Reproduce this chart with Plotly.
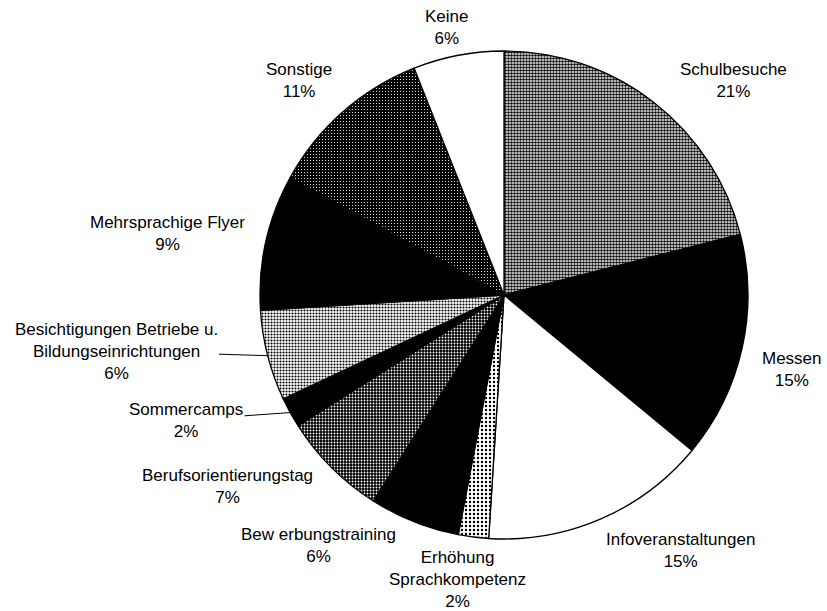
import math
import plotly.graph_objects as go

# ---------------- data ----------------
labels = ["Schulbesuche", "Messen", "Infoveranstaltungen", "Erhöhung<br>Sprachkompetenz",
          "Bew erbungstraining", "Berufsorientierungstag", "Sommercamps",
          "Besichtigungen Betriebe u.<br>Bildungseinrichtungen", "Mehrsprachige Flyer",
          "Sonstige", "Keine"]
values = [21, 15, 15, 2, 6, 7, 2, 6, 9, 11, 6]

# ---------------- style ----------------
colors = ["white", "black", "white", "white", "black", "black", "black", "white", "black", "black", "white"]
p_shape = [".", "", "", ".", "", ".", "", ".", "", ".", ""]
p_fg = ["black", "black", "black", "black", "black", "white", "black", "black", "black", "white", "black"]
p_bg = ["white", "black", "white", "white", "black", "black", "black", "white", "black", "black", "white"]
p_sol = [0.55, 0.3, 0.3, 0.28, 0.3, 0.3, 0.3, 0.4, 0.3, 0.12, 0.3]
p_size = [3, 4, 4, 4, 4, 3, 4, 3, 4, 3, 4]

# label centres in page pixels (layout only)
label_pos = [(733, 80), (792, 369), (680, 550), (458, 579), (318, 545), (227, 486),
             (186, 420), (116, 351), (167, 233), (299, 80), (446, 27)]
leader = [False, False, False, False, False, False, True, True, False, False, False]

W, H = 827, 611
cx, cy, r = 504, 295, 244   # pie centre / radius in page pixels
FONT = "Liberation Sans, Arial, sans-serif"


def px_to_paper(px, py):
    return px / W, 1 - py / H


fig = go.Figure(go.Pie(
    labels=labels,
    values=values,
    sort=False,
    direction="clockwise",
    rotation=0,
    textinfo="none",
    marker=dict(colors=colors, line=dict(color="black", width=1.3),
                pattern=dict(shape=p_shape, fgcolor=p_fg, bgcolor=p_bg,
                             solidity=p_sol, size=p_size)),
    domain=dict(x=[(cx - r) / W, (cx + r) / W],
                y=[1 - (cy + r) / H, 1 - (cy - r) / H]),
    showlegend=False,
    hoverinfo="label+percent",
))

total = sum(values)
annotations = []
cum = 0
for lab, v, (tx, ty), lead in zip(labels, values, label_pos, leader):
    pct = f"{round(v / total * 100)}%"
    text = f"{lab}<br>{pct}"
    mid = (cum + v / 2) / total * 2 * math.pi
    cum += v
    if lead:
        ex = cx + r * math.sin(mid)
        ey = cy - r * math.cos(mid)
        x, y = px_to_paper(ex, ey)
        annotations.append(dict(
            x=x, y=y, xref="paper", yref="paper", text=text, showarrow=True,
            arrowhead=0, arrowwidth=1, arrowcolor="black", standoff=0,
            ax=tx - ex, ay=ty - ey, align="center",
            font=dict(family=FONT, size=17, color="black")))
    else:
        x, y = px_to_paper(tx, ty)
        annotations.append(dict(
            x=x, y=y, xref="paper", yref="paper", text=text, showarrow=False,
            xanchor="center", yanchor="middle", align="center",
            font=dict(family=FONT, size=17, color="black")))

fig.update_layout(
    width=W, height=H,
    margin=dict(l=0, r=0, t=0, b=0),
    paper_bgcolor="white",
    plot_bgcolor="white",
    font=dict(family=FONT, size=17, color="black"),
    annotations=annotations,
)

fig.write_html("out.html", config={"displayModeBar": False},
               post_script="document.body.style.margin='0';")
